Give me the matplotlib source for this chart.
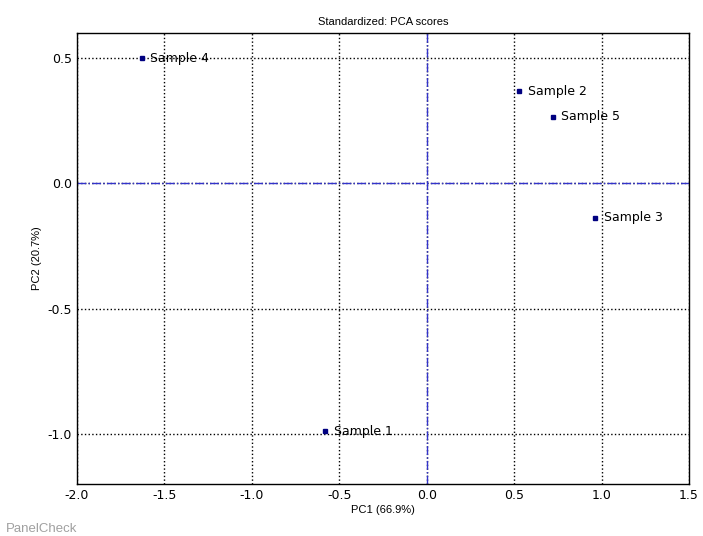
import matplotlib
matplotlib.use("Agg")
import matplotlib.pyplot as plt

plt.rcParams["axes.unicode_minus"] = False

# PCA scores
labels = ["Sample 1", "Sample 2", "Sample 3", "Sample 4", "Sample 5"]
pc1 = [-0.58, 0.53, 0.965, -1.63, 0.72]
pc2 = [-0.99, 0.367, -0.137, 0.50, 0.265]

narrow = ["Liberation Sans Narrow", "Liberation Sans", "DejaVu Sans"]

fig = plt.figure(figsize=(7.03, 5.36), dpi=100)
ax = fig.add_axes([0.1095, 0.097, 0.8705, 0.8415])

ax.plot(pc1, pc2, "s", color="#000080", markersize=2.5, linestyle="none", zorder=3)
for x, y, t in zip(pc1, pc2, labels):
    ax.text(x + 0.05, y, t, fontsize=9, va="center", ha="left", zorder=4)

ax.axhline(0, color="#3333cc", linestyle="-.", linewidth=1, zorder=2)
ax.axvline(0, color="#3333cc", linestyle="-.", linewidth=1, zorder=2)

ax.set_xlim(-2.0, 1.5)
ax.set_ylim(-1.2, 0.6)
ax.set_xticks([-2.0, -1.5, -1.0, -0.5, 0.0, 0.5, 1.0, 1.5])
ax.set_yticks([-1.0, -0.5, 0.0, 0.5])
ax.grid(True, color="black", linestyle=":", linewidth=1)
ax.tick_params(direction="in", length=0, labelsize=9)
for s in ax.spines.values():
    s.set_linewidth(1)

ax.set_title("Standardized: PCA scores", fontsize=8, family=narrow)
ax.set_xlabel("PC1 (66.9%)", fontsize=8, family=narrow, labelpad=2)
ax.set_ylabel("PC2 (20.7%)", fontsize=8, family=narrow)

fig.text(0.008, 0.008, "PanelCheck", fontsize=9.5, color="#a0a0a0", family=narrow)

fig.savefig("out.png", dpi=100)
